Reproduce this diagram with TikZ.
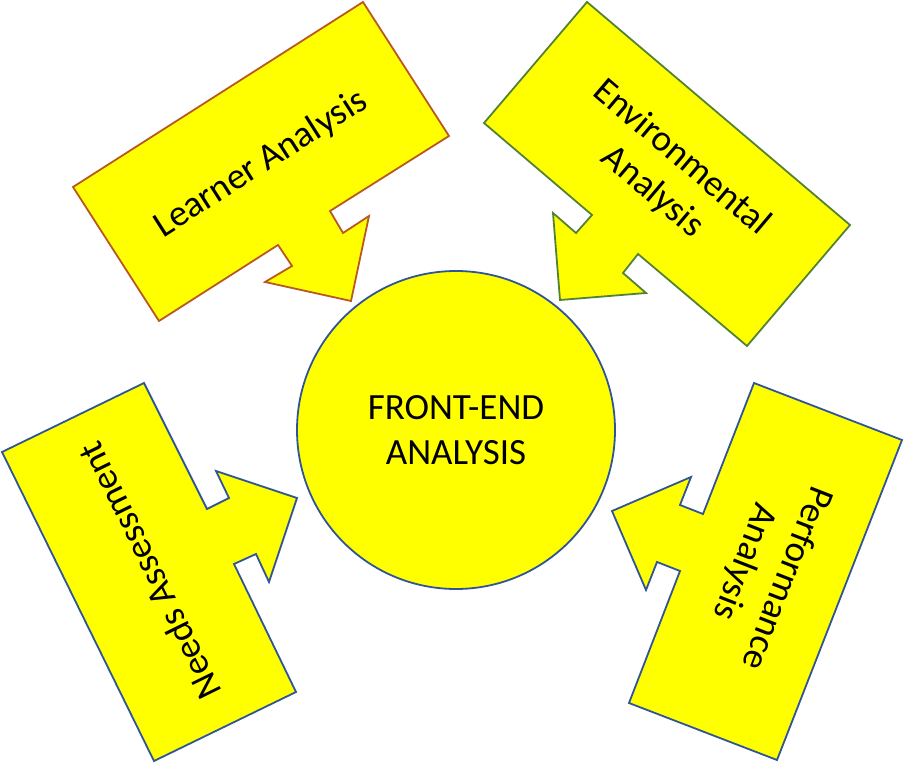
\documentclass[tikz,border=0pt]{standalone}
\usepackage{fontspec}
\setmainfont{Carlito}
\definecolor{boxyellow}{RGB}{255,255,0}
\definecolor{edgeblue}{RGB}{47,85,151}
\definecolor{edgeorange}{RGB}{184,88,34}
\definecolor{edgegreen}{RGB}{84,130,53}
\begin{document}
\begin{tikzpicture}[x=0.5pt,y=-0.5pt]
    \tikzset{callout/.style = {fill=boxyellow,line width=0.9pt,line join=miter}}
    \tikzset{hub/.style = {shape=circle,draw=edgeblue,fill=boxyellow,line width=0.9pt,minimum size=159pt,inner sep=0pt,align=center,font=\fontsize{18.5}{22.5}\selectfont}}
    \tikzset{calltext/.style = {align=center,font=\fontsize{18.5}{22.5}\selectfont}}
    \useasboundingbox (0,0) rectangle (904,764);
    % the four callouts
    \draw[callout,draw=edgeorange] (363,2) -- (449,136) -- (330,211) -- (343,233) -- (369,216)
        -- (351,301) -- (265,282) -- (292,266) -- (278,245) -- (159,321) -- (73,187) -- cycle;
    \draw[callout,draw=edgegreen] (587,2) -- (850,225) -- (747,346) -- (638,254) -- (623,273)
        -- (646,293) -- (560,300) -- (553,213) -- (576,233) -- (592,215) -- (484,123) -- cycle;
    \draw[callout,draw=edgeblue] (144,383) -- (207,509) -- (229,498) -- (216,471) -- (297,498)
        -- (269,582) -- (256,554) -- (234,564) -- (296,692) -- (154,761) -- (2,452) -- cycle;
    \draw[callout,draw=edgeblue] (754,383) -- (902,440) -- (777,760) -- (629,703) -- (680,571)
        -- (657,562) -- (646,590) -- (612,511) -- (691,477) -- (680,505) -- (703,514) -- cycle;
    \node[hub] (fea) at (456,430) {FRONT-END\\ANALYSIS};
    \node[calltext,rotate=32.5] (learner) at (261,164) {Learner Analysis};
    \node[calltext,rotate=-40.3] (environ) at (667,175) {Environmental\\Analysis};
    \node[calltext,rotate=116.2] (needs) at (149,571) {Needs Assessment};
    \node[calltext,rotate=-111.3] (perform) at (765,570) {Performance\\Analysis};
\end{tikzpicture}
\end{document}
